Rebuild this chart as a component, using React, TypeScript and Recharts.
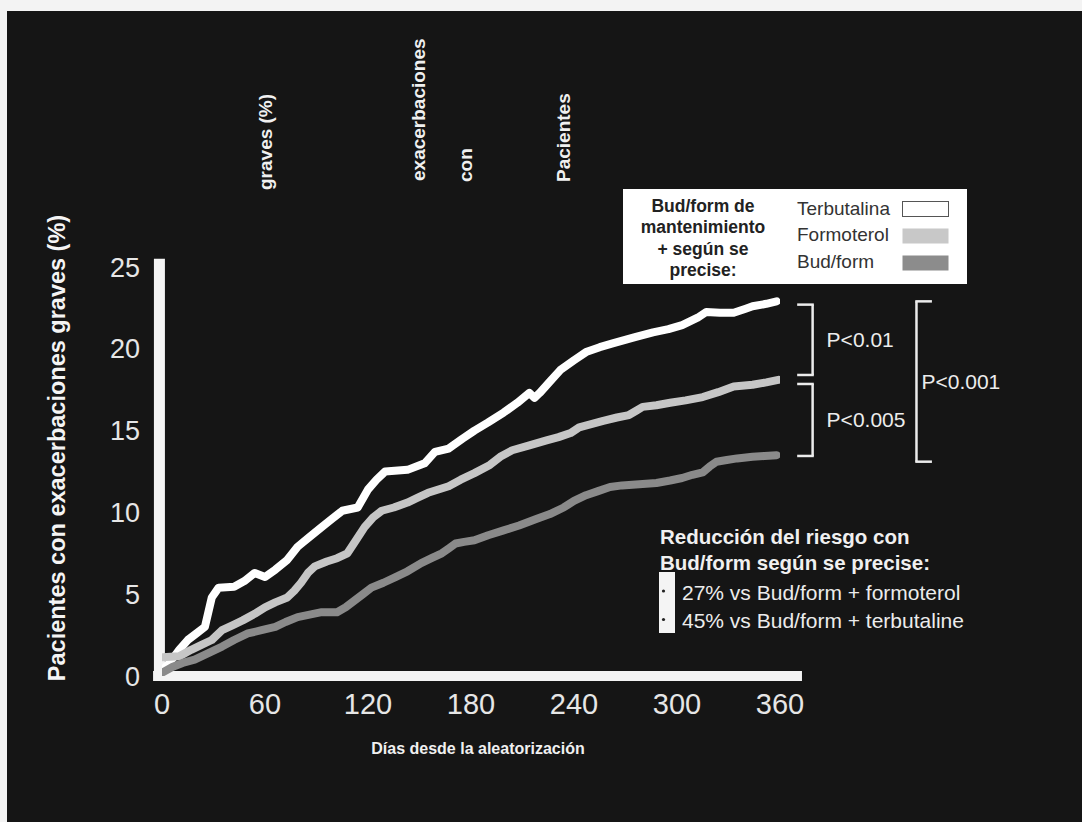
import { LineChart, Line, XAxis, YAxis, ReferenceLine } from "recharts";

const FONT = '"Liberation Sans", Arial, Helvetica, sans-serif';

// Kaplan-Meier style curves: days since randomisation vs % patients with severe exacerbations
const terbDays = [0, 5, 10, 15, 20, 25, 29, 33, 42, 48, 54, 60, 66, 73, 79, 86, 93, 99, 105, 114, 120, 125, 130, 143, 153, 159, 167, 175, 182, 190, 199, 207, 214, 217, 220, 226, 232, 240, 247, 255, 263, 275, 286, 295, 303, 312, 317, 325, 333, 340, 344, 352, 358];
const terbValues = [0.3, 0.9, 1.6, 2.2, 2.6, 3.0, 4.8, 5.4, 5.45, 5.8, 6.3, 6.05, 6.5, 7.1, 7.9, 8.5, 9.1, 9.6, 10.1, 10.3, 11.4, 12.0, 12.5, 12.6, 13.0, 13.7, 13.9, 14.5, 15.0, 15.5, 16.1, 16.7, 17.3, 17.0, 17.3, 18.0, 18.7, 19.3, 19.8, 20.1, 20.35, 20.7, 21.0, 21.2, 21.45, 21.9, 22.25, 22.2, 22.2, 22.45, 22.6, 22.75, 22.9];

const formDays = [0, 10, 17, 23, 29, 35, 41, 47, 54, 60, 66, 73, 77, 81, 85, 89, 96, 102, 108, 113, 118, 123, 128, 135, 143, 149, 155, 161, 167, 174, 182, 191, 197, 204, 214, 224, 231, 238, 243, 250, 257, 265, 272, 276, 280, 288, 296, 305, 315, 324, 333, 344, 352, 359];
const formValues = [1.15, 1.2, 1.6, 1.9, 2.2, 2.8, 3.1, 3.4, 3.8, 4.2, 4.5, 4.8, 5.2, 5.7, 6.3, 6.7, 7.0, 7.2, 7.5, 8.3, 9.1, 9.7, 10.1, 10.3, 10.6, 10.9, 11.2, 11.4, 11.6, 12.0, 12.4, 12.9, 13.4, 13.8, 14.1, 14.4, 14.6, 14.85, 15.2, 15.4, 15.6, 15.8, 15.95, 16.2, 16.45, 16.55, 16.7, 16.85, 17.05, 17.35, 17.7, 17.8, 17.95, 18.1];

const budDays = [0, 6, 12, 19, 27, 35, 42, 50, 58, 66, 72, 79, 86, 93, 102, 107, 112, 117, 122, 129, 136, 143, 151, 157, 163, 167, 171, 176, 182, 190, 199, 208, 218, 226, 234, 240, 247, 254, 261, 268, 276, 282, 288, 296, 303, 309, 315, 319, 323, 329, 335, 344, 351, 358];
const budValues = [0.2, 0.55, 0.8, 1.0, 1.4, 1.8, 2.2, 2.6, 2.8, 3.0, 3.3, 3.6, 3.75, 3.9, 3.9, 4.2, 4.6, 5.0, 5.4, 5.7, 6.05, 6.4, 6.9, 7.2, 7.5, 7.8, 8.1, 8.2, 8.3, 8.6, 8.9, 9.2, 9.6, 9.9, 10.3, 10.7, 11.05, 11.3, 11.55, 11.65, 11.7, 11.75, 11.8, 11.95, 12.1, 12.3, 12.45, 12.8, 13.1, 13.2, 13.3, 13.4, 13.45, 13.5];

const xTicks = [0, 60, 120, 180, 240, 300, 360];
const yTicks = [0, 5, 10, 15, 20, 25];

const seriesNames = ["Terbutalina", "Formoterol", "Bud/form"];
const seriesColors = ["#ffffff", "#c6c6c6", "#8a8a8a"];

// p-value brackets: [bottom, top] in % and the label
const pairBrackets: [number, number, string][] = [
  [18.4, 22.7, "P<0.01"],
  [13.45, 17.85, "P<0.005"],
];
const overallBracket: [number, number, string] = [13.1, 22.9, "P<0.001"];

const legendTitle = ["Bud/form de", "mantenimiento", "+ según se", "precise:"];
const riskTitle = ["Reducción del riesgo con", "Bud/form según se precise:"];
const riskItems = ["27% vs Bud/form + formoterol", "45% vs Bud/form + terbutaline"];
const topWords: [string, number, number][] = [
  ["graves (%)", 265, 190],
  ["exacerbaciones", 418, 181],
  ["con", 465, 182],
  ["Pacientes", 563, 182],
];

const toPoints = (days: number[], vals: number[]) =>
  days.map((d, i) => ({ day: d, v: vals[i] }));

const series = [
  toPoints(terbDays, terbValues),
  toPoints(formDays, formValues),
  toPoints(budDays, budValues),
];

const BR = "#ececec";

export default function App() {
  return (
    <div
      style={{
        position: "absolute",
        left: 0,
        top: 0,
        width: 1082,
        height: 822,
        background: "#f3f3f3",
        fontFamily: FONT,
      }}
    >
      <div
        style={{
          position: "absolute",
          left: 7,
          top: 11,
          width: 1075,
          height: 811,
          background: "#151515",
        }}
      >
        <LineChart
          width={1075}
          height={811}
          margin={{ top: 256, right: 302, bottom: 86, left: 95 }}
          style={{ fontFamily: FONT }}
        >
          <XAxis
            type="number"
            dataKey="day"
            domain={[0, 360]}
            ticks={xTicks}
            interval={0}
            allowDataOverflow
            height={60}
            axisLine={false}
            tickLine={false}
            tickSize={0}
            tickMargin={17}
            tick={{ fill: "#e6e6e6", fontSize: 29 }}
          />
          <YAxis
            type="number"
            domain={[0, 25]}
            ticks={yTicks}
            interval={0}
            allowDataOverflow
            width={60}
            axisLine={false}
            tickLine={false}
            tickSize={0}
            tickMargin={22}
            tick={{ fill: "#e6e6e6", fontSize: 27 }}
          />

          {/* thick white axis bars */}
          <ReferenceLine
            segment={[{ x: -5.2, y: 0 }, { x: 372.8, y: 0 }]}
            stroke="#f4f4f4"
            strokeWidth={10}
            ifOverflow="visible"
          />
          <ReferenceLine
            segment={[{ x: -1.5, y: -0.3 }, { x: -1.5, y: 25.5 }]}
            stroke="#f4f4f4"
            strokeWidth={11}
            ifOverflow="visible"
          />

          {series.map((pts, i) => (
            <Line
              key={seriesNames[i]}
              data={pts}
              dataKey="v"
              name={seriesNames[i]}
              type="linear"
              stroke={seriesColors[i]}
              strokeWidth={8}
              strokeLinecap="round"
              strokeLinejoin="round"
              dot={false}
              activeDot={false}
              isAnimationActive={false}
            />
          ))}

          {/* right-hand brackets between curve end points */}
          {pairBrackets.map(([lo, hi, txt]) => [
            <ReferenceLine
              key={txt + "v"}
              segment={[{ x: 379, y: lo }, { x: 379, y: hi }]}
              stroke={BR}
              strokeWidth={2.5}
              ifOverflow="visible"
              label={{ value: txt, position: "right", offset: 14, fill: "#ececec", fontSize: 21 }}
            />,
            <ReferenceLine
              key={txt + "t"}
              segment={[{ x: 370, y: hi }, { x: 379.7, y: hi }]}
              stroke={BR}
              strokeWidth={2.5}
              ifOverflow="visible"
            />,
            <ReferenceLine
              key={txt + "b"}
              segment={[{ x: 370, y: lo }, { x: 379.7, y: lo }]}
              stroke={BR}
              strokeWidth={2.5}
              ifOverflow="visible"
            />,
          ])}
          <ReferenceLine
            segment={[{ x: 439.5, y: overallBracket[0] }, { x: 439.5, y: overallBracket[1] }]}
            stroke={BR}
            strokeWidth={2.5}
            ifOverflow="visible"
            label={{ value: overallBracket[2], position: "right", offset: 5, fill: "#ececec", fontSize: 21 }}
          />
          <ReferenceLine
            segment={[{ x: 438.8, y: overallBracket[1] }, { x: 448.5, y: overallBracket[1] }]}
            stroke={BR}
            strokeWidth={2.5}
            ifOverflow="visible"
          />
          <ReferenceLine
            segment={[{ x: 438.8, y: overallBracket[0] }, { x: 448.5, y: overallBracket[0] }]}
            stroke={BR}
            strokeWidth={2.5}
            ifOverflow="visible"
          />
        </LineChart>
      </div>

      <svg
        width={1082}
        height={822}
        style={{ position: "absolute", left: 0, top: 0, pointerEvents: "none" }}
        fontFamily={FONT}
      >
        {/* rotated header words */}
        {topWords.map(([w, x, y]) => (
          <text
            key={w}
            x={x}
            y={y}
            transform={`rotate(-90 ${x} ${y})`}
            textAnchor="start"
            dominantBaseline="central"
            fontSize={19}
            fontWeight="bold"
            fill="#f0f0f0"
          >
            {w}
          </text>
        ))}

        {/* axis titles */}
        <text
          x={57}
          y={448}
          transform="rotate(-90 57 448)"
          textAnchor="middle"
          dominantBaseline="central"
          fontSize={23.5}
          fontWeight="bold"
          fill="#f4f4f4"
        >
          Pacientes con exacerbaciones graves (%)
        </text>
        <text
          x={478}
          y={748}
          textAnchor="middle"
          dominantBaseline="central"
          fontSize={16}
          fontWeight="bold"
          fill="#f0f0f0"
        >
          Días desde la aleatorización
        </text>

        {/* legend box */}
        <rect x={623} y={189} width={344} height={95} fill="#ffffff" />
        {legendTitle.map((t, i) => (
          <text
            key={t}
            x={703}
            y={206 + i * 21.3}
            textAnchor="middle"
            dominantBaseline="central"
            fontSize={17.5}
            fontWeight="bold"
            fill="#222"
          >
            {t}
          </text>
        ))}
        {seriesNames.map((n, i) => (
          <g key={n}>
            <text
              x={797}
              y={208 + i * 26.5}
              dominantBaseline="central"
              fontSize={19}
              fill="#333"
            >
              {n}
            </text>
            <rect
              x={902.5}
              y={201.5 + i * 27}
              width={46}
              height={15}
              fill={i === 0 ? "#ffffff" : seriesColors[i] === "#c6c6c6" ? "#c8c8c8" : "#8c8c8c"}
              stroke={i === 0 ? "#555" : "none"}
              strokeWidth={1}
            />
          </g>
        ))}

        {/* risk reduction note */}
        {riskTitle.map((t, i) => (
          <text
            key={t}
            x={660}
            y={536 + i * 26}
            dominantBaseline="central"
            fontSize={20.5}
            fontWeight="bold"
            fill="#f0f0f0"
          >
            {t}
          </text>
        ))}
        <rect x={659} y={572} width={16} height={61} fill="#f4f4f4" />
        {riskItems.map((t, i) => (
          <g key={t}>
            <circle cx={663.5} cy={591 + i * 28.5} r={1.6} fill="#222" />
            <text x={682} y={592 + i * 28.5} dominantBaseline="central" fontSize={21} fill="#ececec">
              {t}
            </text>
          </g>
        ))}
      </svg>
    </div>
  );
}
